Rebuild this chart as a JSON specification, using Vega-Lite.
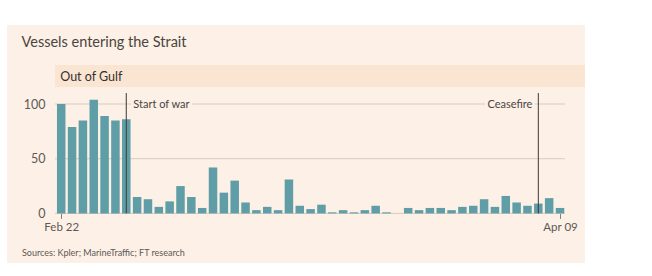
{
  "$schema": "https://vega.github.io/schema/vega-lite/v6.json",
  "width": 578,
  "height": 238,
  "autosize": {"type": "none"},
  "padding": {"left": 7, "top": 25, "right": 67, "bottom": 13},
  "background": "white",
  "config": {
    "view": {"fill": "#fdf0e6", "stroke": null},
    "font": "Lato"
  },
  "title": {
    "text": "Vessels entering the Strait",
    "anchor": "start",
    "frame": "group",
    "offset": -36,
    "baseline": "alphabetic",
    "dx": 14.5,
    "fontSize": 14.5,
    "fontWeight": "normal",
    "font": "Lato",
    "color": "#4a4541"
  },
  "datasets": {
    "vessels": [
      {"date": "2026-02-22", "vessels": 100},
      {"date": "2026-02-23", "vessels": 79},
      {"date": "2026-02-24", "vessels": 85},
      {"date": "2026-02-25", "vessels": 104},
      {"date": "2026-02-26", "vessels": 89},
      {"date": "2026-02-27", "vessels": 85},
      {"date": "2026-02-28", "vessels": 86},
      {"date": "2026-03-01", "vessels": 15},
      {"date": "2026-03-02", "vessels": 13},
      {"date": "2026-03-03", "vessels": 6},
      {"date": "2026-03-04", "vessels": 11},
      {"date": "2026-03-05", "vessels": 25},
      {"date": "2026-03-06", "vessels": 15},
      {"date": "2026-03-07", "vessels": 5},
      {"date": "2026-03-08", "vessels": 42},
      {"date": "2026-03-09", "vessels": 19},
      {"date": "2026-03-10", "vessels": 30},
      {"date": "2026-03-11", "vessels": 10},
      {"date": "2026-03-12", "vessels": 3},
      {"date": "2026-03-13", "vessels": 6},
      {"date": "2026-03-14", "vessels": 3},
      {"date": "2026-03-15", "vessels": 31},
      {"date": "2026-03-16", "vessels": 7},
      {"date": "2026-03-17", "vessels": 4},
      {"date": "2026-03-18", "vessels": 8},
      {"date": "2026-03-19", "vessels": 1},
      {"date": "2026-03-20", "vessels": 3},
      {"date": "2026-03-21", "vessels": 1},
      {"date": "2026-03-22", "vessels": 3},
      {"date": "2026-03-23", "vessels": 7},
      {"date": "2026-03-24", "vessels": 1},
      {"date": "2026-03-25", "vessels": 0},
      {"date": "2026-03-26", "vessels": 5},
      {"date": "2026-03-27", "vessels": 3},
      {"date": "2026-03-28", "vessels": 5},
      {"date": "2026-03-29", "vessels": 5},
      {"date": "2026-03-30", "vessels": 3},
      {"date": "2026-03-31", "vessels": 6},
      {"date": "2026-04-01", "vessels": 7},
      {"date": "2026-04-02", "vessels": 13},
      {"date": "2026-04-03", "vessels": 6},
      {"date": "2026-04-04", "vessels": 16},
      {"date": "2026-04-05", "vessels": 10},
      {"date": "2026-04-06", "vessels": 7},
      {"date": "2026-04-07", "vessels": 9},
      {"date": "2026-04-08", "vessels": 14},
      {"date": "2026-04-09", "vessels": 5}
    ],
    "events": [
      {"event": "Start of war", "date": "2026-02-28"},
      {"event": "Ceasefire", "date": "2026-04-07"}
    ],
    "grid": [{"v": 0}, {"v": 50}, {"v": 100}],
    "panel": [{"panel": "Out of Gulf"}]
  },
  "layer": [
    {
      "data": {"name": "panel"},
      "mark": {"type": "rect", "color": "#fae5d3"},
      "encoding": {
        "x": {"datum": {"year": 2026, "month": 2, "date": 21, "hours": 10, "minutes": 15, "utc": true}, "type": "temporal"},
        "x2": {"datum": {"year": 2026, "month": 4, "date": 11, "hours": 7, "minutes": 20, "utc": true}},
        "y": {"datum": 115.5, "type": "quantitative"},
        "y2": {"datum": 135.7}
      }
    },
    {
      "data": {"name": "panel"},
      "mark": {"type": "text", "align": "left", "baseline": "middle", "dx": -1, "fontSize": 12.5, "font": "Lato", "color": "#33302e"},
      "encoding": {
        "x": {"datum": {"year": 2026, "month": 2, "date": 22, "utc": true}, "type": "temporal"},
        "y": {"datum": 125.0, "type": "quantitative"},
        "text": {"field": "panel"}
      }
    },
    {
      "data": {"name": "grid"},
      "mark": {"type": "rule", "color": "#d8cbc0", "strokeWidth": 1},
      "encoding": {
        "x": {"datum": {"year": 2026, "month": 2, "date": 21, "hours": 10, "minutes": 15, "utc": true}, "type": "temporal"},
        "x2": {"datum": {"year": 2026, "month": 4, "date": 9, "hours": 11, "utc": true}},
        "y": {"field": "v", "type": "quantitative"}
      }
    },
    {
      "data": {"name": "vessels"},
      "mark": {"type": "bar", "width": 8.5, "color": "#5f9ea6"},
      "encoding": {
        "x": {
          "field": "date",
          "type": "temporal",
          "scale": {
            "type": "utc",
            "padding": 0,
            "domain": [
              {"year": 2026, "month": 2, "date": 17, "utc": true},
              {"year": 2026, "month": 4, "date": 11, "hours": 7, "minutes": 20, "utc": true}
            ]
          },
          "axis": {
            "values": [
              {"year": 2026, "month": 2, "date": 22, "utc": true},
              {"year": 2026, "month": 4, "date": 9, "utc": true}
            ],
            "format": "%b %d",
            "offset": -49.6,
            "domain": false,
            "grid": false,
            "ticks": true,
            "tickSize": 5,
            "tickColor": "#857e78",
            "labelPadding": 3,
            "labelFlush": false,
            "labelFontSize": 11.5,
            "labelFont": "Lato",
            "labelColor": "#5e5955",
            "title": "Sources: Kpler; MarineTraffic; FT research",
            "titleX": 14.5,
            "titleY": 42.5,
            "titleAlign": "left",
            "titleAnchor": "start",
            "titleBaseline": "alphabetic",
            "titleFontSize": 9,
            "titleFont": "Lato",
            "titleFontWeight": "normal",
            "titleColor": "#5e5955"
          }
        },
        "y": {
          "field": "vessels",
          "type": "quantitative",
          "scale": {"domain": [-45.3, 172.2], "nice": false, "zero": false, "padding": 0},
          "axis": {
            "orient": "left",
            "values": [0, 50, 100],
            "offset": -38,
            "domain": false,
            "ticks": false,
            "tickSize": 0,
            "grid": false,
            "labelPadding": 0,
            "labelFontSize": 12.5,
            "labelFont": "Lato",
            "labelColor": "#5e5955",
            "title": null
          }
        }
      }
    },
    {
      "data": {"name": "events"},
      "mark": {"type": "rule", "color": "#3d3935", "strokeWidth": 1},
      "encoding": {
        "x": {"field": "date", "type": "temporal"},
        "y": {"datum": 0, "type": "quantitative"},
        "y2": {"datum": 110}
      }
    },
    {
      "data": {"name": "events"},
      "transform": [{"filter": "datum.event === 'Start of war'"}],
      "mark": {"type": "text", "align": "left", "baseline": "middle", "dx": 7, "dy": 1, "fontSize": 11, "font": "Lato", "color": "#fdf0e6", "stroke": "#fdf0e6", "strokeWidth": 6},
      "encoding": {
        "x": {"field": "date", "type": "temporal"},
        "y": {"datum": 100, "type": "quantitative"},
        "text": {"field": "event"}
      }
    },
    {
      "data": {"name": "events"},
      "transform": [{"filter": "datum.event === 'Ceasefire'"}],
      "mark": {"type": "text", "align": "right", "baseline": "middle", "dx": -6, "dy": 1, "fontSize": 11, "font": "Lato", "color": "#fdf0e6", "stroke": "#fdf0e6", "strokeWidth": 6},
      "encoding": {
        "x": {"field": "date", "type": "temporal"},
        "y": {"datum": 100, "type": "quantitative"},
        "text": {"field": "event"}
      }
    },
    {
      "data": {"name": "events"},
      "transform": [{"filter": "datum.event === 'Start of war'"}],
      "mark": {"type": "text", "align": "left", "baseline": "middle", "dx": 7, "dy": 1, "fontSize": 11, "font": "Lato", "color": "#4a4541"},
      "encoding": {
        "x": {"field": "date", "type": "temporal"},
        "y": {"datum": 100, "type": "quantitative"},
        "text": {"field": "event"}
      }
    },
    {
      "data": {"name": "events"},
      "transform": [{"filter": "datum.event === 'Ceasefire'"}],
      "mark": {"type": "text", "align": "right", "baseline": "middle", "dx": -6, "dy": 1, "fontSize": 11, "font": "Lato", "color": "#4a4541"},
      "encoding": {
        "x": {"field": "date", "type": "temporal"},
        "y": {"datum": 100, "type": "quantitative"},
        "text": {"field": "event"}
      }
    }
  ]
}
